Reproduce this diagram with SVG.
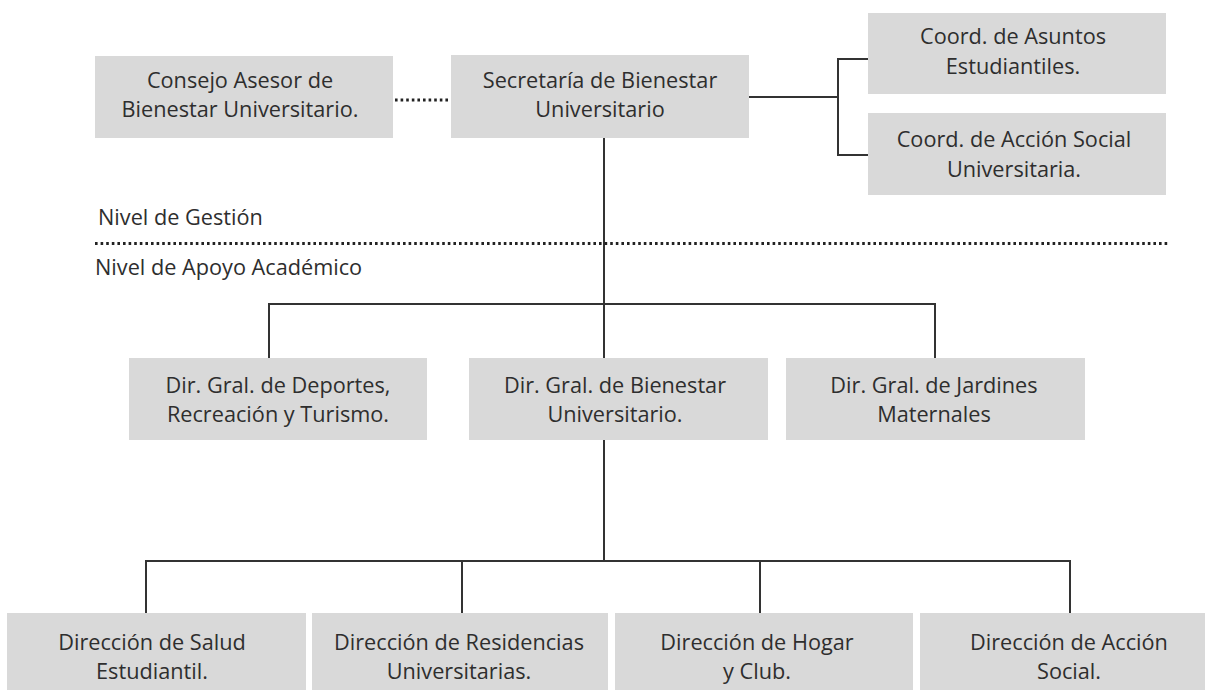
<svg xmlns="http://www.w3.org/2000/svg" width="1205" height="690" viewBox="0 0 1205 690">
<style>
.box{fill:#d9d9d9}
.t{font-family:"Open Sans","Liberation Sans",sans-serif;font-size:21.7px;fill:#2e2e2e;text-anchor:middle}
.lbl{font-family:"Open Sans","Liberation Sans",sans-serif;font-size:21.7px;fill:#2e2e2e}
.ln{stroke:#333;stroke-width:2;fill:none}
.dot{stroke:#222;stroke-width:3;stroke-dasharray:2.6 3;fill:none}
</style>
<rect width="1205" height="690" fill="#fff"/>
<g id="connectors">
<line class="dot" x1="395" y1="100" x2="450" y2="100"/>
<polyline class="ln" points="749,97 838,97"/>
<polyline class="ln" points="868,59 838,59 838,155 868,155"/>
<line class="ln" x1="604" y1="138" x2="604" y2="358"/>
<polyline class="ln" points="269,358 269,304 935,304 935,358"/>
<line class="ln" x1="604" y1="440" x2="604" y2="561"/>
<polyline class="ln" points="146,613 146,561 1070,561 1070,613"/>
<line class="ln" x1="462" y1="561" x2="462" y2="613"/>
<line class="ln" x1="760" y1="561" x2="760" y2="613"/>
</g>
<g id="levels">
<text class="lbl" x="98" y="225">Nivel de Gestión</text>
<line class="dot" x1="95" y1="243.5" x2="1168" y2="243.5"/>
<text class="lbl" x="95" y="275">Nivel de Apoyo Académico</text>
</g>
<g id="consejo">
<rect class="box" x="95" y="56" width="298" height="82"/>
<text class="t" x="240" y="88">Consejo Asesor de</text>
<text class="t" x="240" y="117">Bienestar Universitario.</text>
</g>
<g id="secretaria">
<rect class="box" x="451" y="55" width="298" height="83"/>
<text class="t" x="600" y="88">Secretaría de Bienestar</text>
<text class="t" x="600" y="117">Universitario</text>
</g>
<g id="coord-asuntos">
<rect class="box" x="868" y="13" width="298" height="81"/>
<text class="t" x="1013" y="44">Coord. de Asuntos</text>
<text class="t" x="1013" y="74">Estudiantiles.</text>
</g>
<g id="coord-accion">
<rect class="box" x="868" y="113" width="298" height="82"/>
<text class="t" x="1014" y="147">Coord. de Acción Social</text>
<text class="t" x="1014" y="177">Universitaria.</text>
</g>
<g id="dir-deportes">
<rect class="box" x="129" y="358" width="298" height="82"/>
<text class="t" x="278" y="393">Dir. Gral. de Deportes,</text>
<text class="t" x="278" y="422">Recreación y Turismo.</text>
</g>
<g id="dir-bienestar">
<rect class="box" x="469" y="358" width="299" height="82"/>
<text class="t" x="615" y="393">Dir. Gral. de Bienestar</text>
<text class="t" x="615" y="422">Universitario.</text>
</g>
<g id="dir-jardines">
<rect class="box" x="786" y="358" width="299" height="82"/>
<text class="t" x="934" y="393">Dir. Gral. de Jardines</text>
<text class="t" x="934" y="422">Maternales</text>
</g>
<g id="dir-salud">
<rect class="box" x="7" y="613" width="299" height="90"/>
<text class="t" x="152" y="650">Dirección de Salud</text>
<text class="t" x="152" y="679">Estudiantil.</text>
</g>
<g id="dir-residencias">
<rect class="box" x="312" y="613" width="296" height="90"/>
<text class="t" x="459" y="650">Dirección de Residencias</text>
<text class="t" x="459" y="679">Universitarias.</text>
</g>
<g id="dir-hogar">
<rect class="box" x="615" y="613" width="298" height="90"/>
<text class="t" x="757" y="650">Dirección de Hogar</text>
<text class="t" x="757" y="679">y Club.</text>
</g>
<g id="dir-accion">
<rect class="box" x="920" y="613" width="290" height="90"/>
<text class="t" x="1069" y="650">Dirección de Acción</text>
<text class="t" x="1069" y="679">Social.</text>
</g>
</svg>
